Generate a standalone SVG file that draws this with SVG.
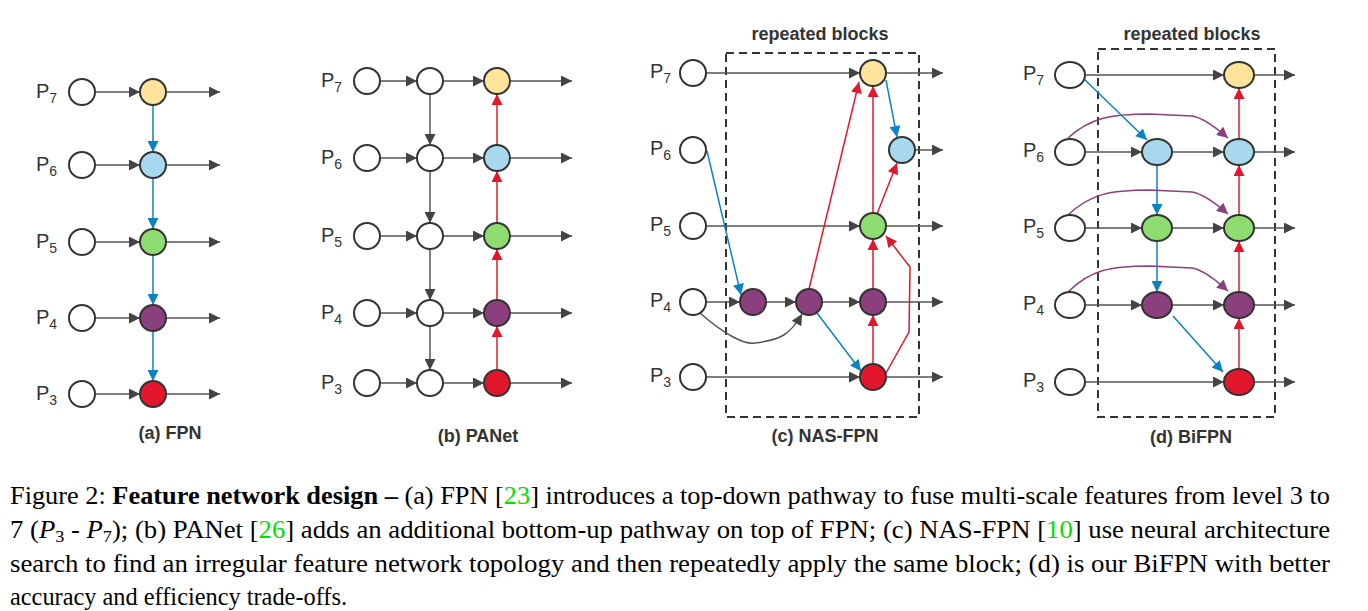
<svg xmlns="http://www.w3.org/2000/svg" width="1368" height="611" viewBox="0 0 1368 611">
<style>
.n{stroke:#333;stroke-width:2}
.w{fill:#fff}.y{fill:#fde49a}.b{fill:#a8d8ee}.g{fill:#8edc70}.p{fill:#8b3f7c}.r{fill:#e3172c}
.e{fill:none;stroke:#555;stroke-width:1.5;marker-end:url(#ad)}
.eb{fill:none;stroke:#0a84c0;stroke-width:1.5;marker-end:url(#ab)}
.er{fill:none;stroke:#e3172c;stroke-width:1.5;marker-end:url(#ar)}
.ep{fill:none;stroke:#8b3f7c;stroke-width:1.5;marker-end:url(#ap)}
.lb{font-family:"Liberation Sans",Arial,sans-serif;font-size:20px;fill:#333}
.t{font-family:"Liberation Sans",Arial,sans-serif;font-size:18px;font-weight:bold;fill:#333;text-anchor:middle}
.c{font-family:"Liberation Serif","Times New Roman",serif;font-size:25px;fill:#000}
.box{fill:none;stroke:#333;stroke-width:2;stroke-dasharray:8,5}
</style>
<defs>
<marker id="ad" viewBox="0 0 10 10" refX="10" refY="5" markerWidth="14" markerHeight="11" markerUnits="userSpaceOnUse" orient="auto"><path d="M0,0L10,5L0,10z" fill="#444"/></marker>
<marker id="ab" viewBox="0 0 10 10" refX="10" refY="5" markerWidth="14" markerHeight="11" markerUnits="userSpaceOnUse" orient="auto"><path d="M0,0L10,5L0,10z" fill="#0a84c0"/></marker>
<marker id="ar" viewBox="0 0 10 10" refX="10" refY="5" markerWidth="14" markerHeight="11" markerUnits="userSpaceOnUse" orient="auto"><path d="M0,0L10,5L0,10z" fill="#e3172c"/></marker>
<marker id="ap" viewBox="0 0 10 10" refX="10" refY="5" markerWidth="14" markerHeight="11" markerUnits="userSpaceOnUse" orient="auto"><path d="M0,0L10,5L0,10z" fill="#8b3f7c"/></marker>
</defs>

<g id="labels">
<text class="lb" x="36" y="98">P<tspan font-size="14" dy="5">7</tspan></text>
<text class="lb" x="36" y="171">P<tspan font-size="14" dy="5">6</tspan></text>
<text class="lb" x="36" y="248">P<tspan font-size="14" dy="5">5</tspan></text>
<text class="lb" x="36" y="324">P<tspan font-size="14" dy="5">4</tspan></text>
<text class="lb" x="36" y="400">P<tspan font-size="14" dy="5">3</tspan></text>
<text class="lb" x="321" y="87">P<tspan font-size="14" dy="5">7</tspan></text>
<text class="lb" x="321" y="164">P<tspan font-size="14" dy="5">6</tspan></text>
<text class="lb" x="321" y="242">P<tspan font-size="14" dy="5">5</tspan></text>
<text class="lb" x="321" y="319">P<tspan font-size="14" dy="5">4</tspan></text>
<text class="lb" x="321" y="389">P<tspan font-size="14" dy="5">3</tspan></text>
<text class="lb" x="650" y="78">P<tspan font-size="14" dy="5">7</tspan></text>
<text class="lb" x="650" y="155">P<tspan font-size="14" dy="5">6</tspan></text>
<text class="lb" x="650" y="231">P<tspan font-size="14" dy="5">5</tspan></text>
<text class="lb" x="650" y="307">P<tspan font-size="14" dy="5">4</tspan></text>
<text class="lb" x="650" y="382">P<tspan font-size="14" dy="5">3</tspan></text>
<text class="lb" x="1023" y="80">P<tspan font-size="14" dy="5">7</tspan></text>
<text class="lb" x="1023" y="157">P<tspan font-size="14" dy="5">6</tspan></text>
<text class="lb" x="1023" y="233">P<tspan font-size="14" dy="5">5</tspan></text>
<text class="lb" x="1023" y="310">P<tspan font-size="14" dy="5">4</tspan></text>
<text class="lb" x="1023" y="387">P<tspan font-size="14" dy="5">3</tspan></text>
<text class="t" x="170" y="439">(a) FPN</text>
<text class="t" x="478" y="442">(b) PANet</text>
<text class="t" x="825" y="442">(c) NAS-FPN</text>
<text class="t" x="1191" y="443">(d) BiFPN</text>
<text class="t" x="820" y="40">repeated blocks</text>
<text class="t" x="1192" y="40">repeated blocks</text>
</g>

<rect class="box" x="726" y="53" width="193" height="364"/>
<rect class="box" x="1098" y="49" width="177" height="368"/>

<g id="connectors">
<path class="e" d="M95,92H140"/><path class="e" d="M95,165H140"/><path class="e" d="M95,242H140"/><path class="e" d="M95,318H140"/><path class="e" d="M95,394H140"/>
<path class="e" d="M166,92H220"/><path class="e" d="M166,165H220"/><path class="e" d="M166,242H220"/><path class="e" d="M166,318H220"/><path class="e" d="M166,394H220"/>
<path class="eb" d="M153,105V152"/><path class="eb" d="M153,178V229"/><path class="eb" d="M153,255V305"/><path class="eb" d="M153,331V381"/>
<path class="e" d="M380,81H417"/><path class="e" d="M380,158H417"/><path class="e" d="M380,236H417"/><path class="e" d="M380,313H417"/><path class="e" d="M380,383H417"/>
<path class="e" d="M443,81H484"/><path class="e" d="M443,158H484"/><path class="e" d="M443,236H484"/><path class="e" d="M443,313H484"/><path class="e" d="M443,383H484"/>
<path class="e" d="M510,81H572"/><path class="e" d="M510,158H572"/><path class="e" d="M510,236H572"/><path class="e" d="M510,313H572"/><path class="e" d="M510,383H572"/>
<path class="e" d="M430,94V145"/><path class="e" d="M430,171V223"/><path class="e" d="M430,249V300"/><path class="e" d="M430,326V370"/>
<path class="er" d="M497,370V326"/><path class="er" d="M497,300V249"/><path class="er" d="M497,223V171"/><path class="er" d="M497,145V94"/>
<path class="e" d="M706,73H860"/><path class="e" d="M706,226H860"/><path class="e" d="M706,377H860"/>
<path class="e" d="M706,302H740"/><path class="e" d="M766,302H796"/><path class="e" d="M822,302H860"/>
<path class="e" d="M886,73H943"/><path class="e" d="M915,150H943"/><path class="e" d="M886,226H943"/><path class="e" d="M886,302H943"/><path class="e" d="M886,377H943"/>
<path class="eb" d="M707,151L741,295"/>
<path class="e" d="M700,313C725,335 745,345 755,343C780,340 790,335 802,314"/>
<path class="er" d="M809,289L859,82"/>
<path class="eb" d="M817,313L861,371"/>
<path class="er" d="M873,364V315"/><path class="er" d="M873,289V239"/><path class="er" d="M873,213V86"/>
<path class="er" d="M877,214L897,163"/>
<path class="eb" d="M886,80L897,137"/>
<path class="er" d="M886,373L909,332L910,267L886,236"/>
<path class="e" d="M1086,75H1224"/>
<path class="eb" d="M1084,79L1147,140"/>
<path class="e" d="M1086,152H1142"/><path class="e" d="M1172,152H1224"/>
<path class="e" d="M1086,228H1142"/><path class="e" d="M1172,228H1224"/>
<path class="e" d="M1086,305H1142"/><path class="e" d="M1172,305H1224"/>
<path class="e" d="M1086,382H1224"/>
<path class="e" d="M1254,75H1295"/><path class="e" d="M1254,152H1295"/><path class="e" d="M1254,228H1295"/><path class="e" d="M1254,305H1295"/><path class="e" d="M1254,382H1295"/>
<path class="eb" d="M1157,165V215"/><path class="eb" d="M1157,241V292"/>
<path class="eb" d="M1173,316L1223,372"/>
<path class="er" d="M1239,369V318"/><path class="er" d="M1239,292V241"/><path class="er" d="M1239,215V165"/><path class="er" d="M1239,139V88"/>
<path class="ep" d="M1068,138C1090,118 1110,114 1150,114L1192,116Q1205,118 1228,138"/>
<path class="ep" d="M1068,215C1090,194 1110,190 1150,190L1192,192Q1205,194 1228,214"/>
<path class="ep" d="M1068,292C1090,270 1110,266 1150,266L1192,268Q1205,270 1228,291"/>
</g>

<g id="a-nodes">
<circle id="a_i7" class="n w" cx="82" cy="92" r="13"/><circle id="a_i6" class="n w" cx="82" cy="165" r="13"/><circle id="a_i5" class="n w" cx="82" cy="242" r="13"/><circle id="a_i4" class="n w" cx="82" cy="318" r="13"/><circle id="a_i3" class="n w" cx="82" cy="394" r="13"/>
<circle id="a_o7" class="n y" cx="153" cy="92" r="13"/><circle id="a_o6" class="n b" cx="153" cy="165" r="13"/><circle id="a_o5" class="n g" cx="153" cy="242" r="13"/><circle id="a_o4" class="n p" cx="153" cy="318" r="13"/><circle id="a_o3" class="n r" cx="153" cy="394" r="13"/>
</g>
<g id="b-nodes">
<circle id="b_i7" class="n w" cx="367" cy="81" r="13"/><circle id="b_i6" class="n w" cx="367" cy="158" r="13"/><circle id="b_i5" class="n w" cx="367" cy="236" r="13"/><circle id="b_i4" class="n w" cx="367" cy="313" r="13"/><circle id="b_i3" class="n w" cx="367" cy="383" r="13"/>
<circle id="b_m7" class="n w" cx="430" cy="81" r="13"/><circle id="b_m6" class="n w" cx="430" cy="158" r="13"/><circle id="b_m5" class="n w" cx="430" cy="236" r="13"/><circle id="b_m4" class="n w" cx="430" cy="313" r="13"/><circle id="b_m3" class="n w" cx="430" cy="383" r="13"/>
<circle id="b_o7" class="n y" cx="497" cy="81" r="13"/><circle id="b_o6" class="n b" cx="497" cy="158" r="13"/><circle id="b_o5" class="n g" cx="497" cy="236" r="13"/><circle id="b_o4" class="n p" cx="497" cy="313" r="13"/><circle id="b_o3" class="n r" cx="497" cy="383" r="13"/>
</g>
<g id="c-nodes">
<circle id="c_i7" class="n w" cx="693" cy="73" r="13"/><circle id="c_i6" class="n w" cx="693" cy="150" r="13"/><circle id="c_i5" class="n w" cx="693" cy="226" r="13"/><circle id="c_i4" class="n w" cx="693" cy="302" r="13"/><circle id="c_i3" class="n w" cx="693" cy="377" r="13"/>
<circle id="c_p1" class="n p" cx="753" cy="302" r="13"/><circle id="c_p2" class="n p" cx="809" cy="302" r="13"/><circle id="c_p3" class="n p" cx="873" cy="302" r="13"/>
<circle id="c_y" class="n y" cx="873" cy="73" r="13"/><circle id="c_b" class="n b" cx="902" cy="150" r="13"/><circle id="c_g" class="n g" cx="873" cy="226" r="13"/><circle id="c_r" class="n r" cx="873" cy="377" r="13"/>
</g>
<g id="d-nodes">
<ellipse id="d_i7" class="n w" cx="1070" cy="75" rx="15" ry="13"/><ellipse id="d_i6" class="n w" cx="1070" cy="152" rx="15" ry="13"/><ellipse id="d_i5" class="n w" cx="1070" cy="228" rx="15" ry="13"/><ellipse id="d_i4" class="n w" cx="1070" cy="305" rx="15" ry="13"/><ellipse id="d_i3" class="n w" cx="1070" cy="382" rx="15" ry="13"/>
<ellipse id="d_m6" class="n b" cx="1157" cy="152" rx="15" ry="13"/><ellipse id="d_m5" class="n g" cx="1157" cy="228" rx="15" ry="13"/><ellipse id="d_m4" class="n p" cx="1157" cy="305" rx="15" ry="13"/>
<ellipse id="d_o7" class="n y" cx="1239" cy="75" rx="15" ry="13"/><ellipse id="d_o6" class="n b" cx="1239" cy="152" rx="15" ry="13"/><ellipse id="d_o5" class="n g" cx="1239" cy="228" rx="15" ry="13"/><ellipse id="d_o4" class="n p" cx="1239" cy="305" rx="15" ry="13"/><ellipse id="d_o3" class="n r" cx="1239" cy="382" rx="15" ry="13"/>
</g>

<g id="caption">
<text class="c" x="10" y="504" textLength="1320" lengthAdjust="spacingAndGlyphs">Figure 2: <tspan font-weight="bold">Feature network design –</tspan> (a) FPN [<tspan fill="#00e000">23</tspan>] introduces a top-down pathway to fuse multi-scale features from level 3 to</text>
<text class="c" x="10" y="538" textLength="1320" lengthAdjust="spacingAndGlyphs">7 (<tspan font-style="italic">P</tspan><tspan font-size="17" dy="4">3</tspan><tspan dy="-4"> - </tspan><tspan font-style="italic">P</tspan><tspan font-size="17" dy="4">7</tspan><tspan dy="-4">); (b) PANet [</tspan><tspan fill="#00e000">26</tspan>] adds an additional bottom-up pathway on top of FPN; (c) NAS-FPN [<tspan fill="#00e000">10</tspan>] use neural architecture</text>
<text class="c" x="10" y="572" textLength="1320" lengthAdjust="spacingAndGlyphs">search to find an irregular feature network topology and then repeatedly apply the same block; (d) is our BiFPN with better</text>
<text class="c" x="10" y="605" textLength="337" lengthAdjust="spacingAndGlyphs">accuracy and efficiency trade-offs.</text>
</g>
</svg>
